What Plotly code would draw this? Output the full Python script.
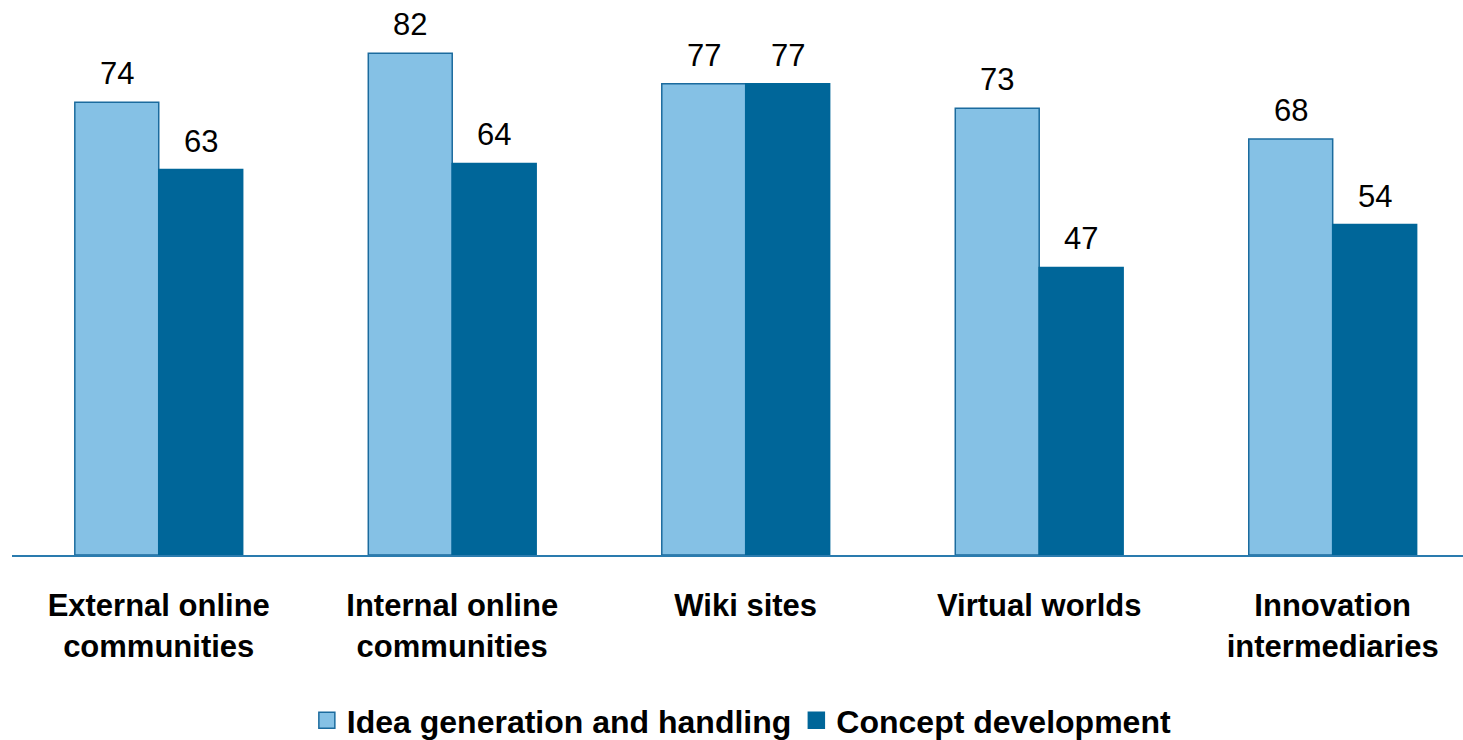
import plotly.graph_objects as go

categories = ["External online<br>communities", "Internal online<br>communities",
              "Wiki sites", "Virtual worlds", "Innovation<br>intermediaries"]
idea_generation = [74, 82, 77, 73, 68]
concept_development = [63, 64, 77, 47, 54]
series_names = ["Idea generation and handling", "Concept development"]

LIGHT = "#85C1E5"
DARK = "#006699"
EDGE = "#1B6B9E"
FONT = "Liberation Sans, Arial, sans-serif"

fig = go.Figure()
fig.add_trace(go.Bar(x=categories, y=idea_generation, name=series_names[0],
                     marker=dict(color=LIGHT, line=dict(color=EDGE, width=1.5)),
                     showlegend=False))
fig.add_trace(go.Bar(x=categories, y=concept_development, name=series_names[1],
                     marker=dict(color=DARK, line=dict(color=DARK, width=1.5)),
                     showlegend=False))

# legend entries with larger square swatches
fig.add_trace(go.Scatter(x=[None], y=[None], mode="markers", name=series_names[0],
                         marker=dict(symbol="square", size=19, color=LIGHT,
                                     line=dict(color=EDGE, width=1.5))))
fig.add_trace(go.Scatter(x=[None], y=[None], mode="markers", name=series_names[1],
                         marker=dict(symbol="square", size=19, color=DARK,
                                     line=dict(color=DARK, width=1.5))))

# value labels above each bar
annotations = []
for cat, a, b in zip(categories, idea_generation, concept_development):
    for val, shift in ((a, -42), (b, 42)):
        annotations.append(dict(x=cat, y=val, text=str(val), showarrow=False,
                                xanchor="center", yanchor="bottom",
                                xshift=shift, yshift=9,
                                font=dict(family=FONT, size=31, color="#000000")))

fig.update_layout(
    width=1463, height=740,
    margin=dict(l=12, r=0, t=0, b=185, autoexpand=False),
    paper_bgcolor="white", plot_bgcolor="white",
    barmode="group", bargap=0.428, bargroupgap=0,
    annotations=annotations,
    font=dict(family=FONT, color="#000000"),
    legend=dict(orientation="h", x=0.503, xanchor="center", y=-0.298, yanchor="middle",
                font=dict(family=FONT, size=32, color="#000000", weight="bold"),
                itemsizing="trace", tracegroupgap=0, itemwidth=30),
    xaxis=dict(range=[-0.5, 4.444], showline=True, linecolor="#2A7BAE", linewidth=2,
               showgrid=False, ticks="", ticklabelstandoff=22,
               tickfont=dict(family=FONT, size=31, color="#000000", weight="bold")),
    yaxis=dict(range=[0, 90.7], visible=False, showgrid=False, zeroline=False),
)

fig.write_html("out.html")
